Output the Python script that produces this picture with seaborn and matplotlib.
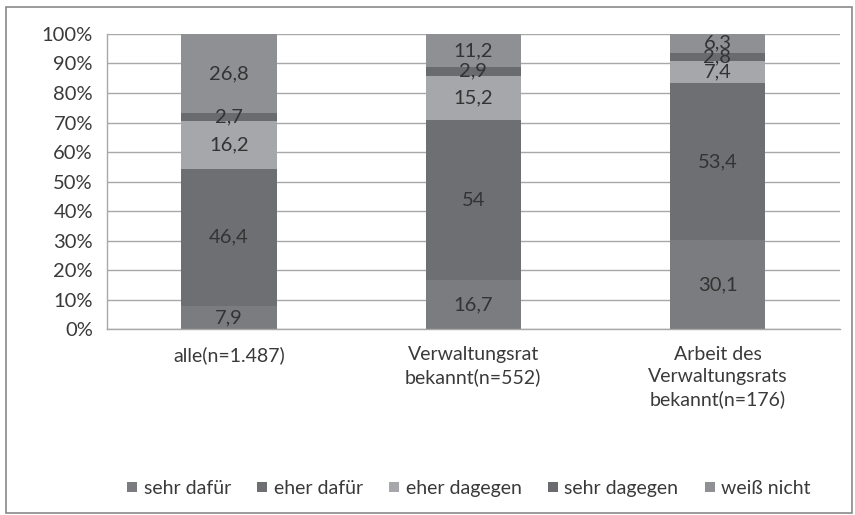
import numpy as np
import pandas as pd
import matplotlib
matplotlib.use("Agg")
import matplotlib.pyplot as plt
from matplotlib.lines import Line2D
from matplotlib.patches import Rectangle
import seaborn as sns

categories = ["alle(n=1.487)", "Verwaltungsrat\nbekannt(n=552)",
              "Arbeit des\nVerwaltungsrats\nbekannt(n=176)"]
series = ["sehr dafür", "eher dafür", "eher dagegen", "sehr dagegen", "weiß nicht"]
sehr_dafuer = [7.9, 16.7, 30.1]
eher_dafuer = [46.4, 54, 53.4]
eher_dagegen = [16.2, 15.2, 7.4]
sehr_dagegen = [2.7, 2.9, 2.8]
weiss_nicht = [26.8, 11.2, 6.3]
colors = ["#7b7c80", "#6e6f73", "#a6a7ab", "#6a6b6f", "#8f9094"]

values = [sehr_dafuer, eher_dafuer, eher_dagegen, sehr_dagegen, weiss_nicht]
cum = np.cumsum(np.array(values), axis=0)

sns.set_style("white")
plt.rcParams["font.family"] = ["Lato", "DejaVu Sans"]
text_color = "#3a3a3a"

fig = plt.figure(figsize=(8.55, 5.15), dpi=100)
ax = fig.add_axes([0.125, 0.361, 0.857, 0.573])

# stacked bars: draw cumulative totals from top segment down
for i in range(len(series) - 1, -1, -1):
    d = pd.DataFrame({"cat": categories, "val": cum[i]})
    sns.barplot(data=d, x="cat", y="val", color=colors[i], width=0.39,
                saturation=1, ax=ax, zorder=2, linewidth=0)

# value labels in segment middles
for i in range(len(series)):
    for j, cat in enumerate(categories):
        v = values[i][j]
        mid = cum[i][j] - v / 2
        lab = f"{v:g}".replace(".", ",")
        ax.text(j, mid, lab, ha="center", va="center", fontsize=14.5,
                color="#333333", zorder=3)

ax.set_ylim(0, 100)
ax.set_xlim(-0.5, 2.5)
ax.set_yticks(np.arange(0, 101, 10))
ax.set_yticklabels([f"{t}%" for t in range(0, 101, 10)])
ax.yaxis.grid(True, color="#a8a8a8", linewidth=1, zorder=0)
ax.set_axisbelow(True)
ax.set_xlabel("")
ax.set_ylabel("")
for s in ["top", "right"]:
    ax.spines[s].set_visible(False)
for s in ["left", "bottom"]:
    ax.spines[s].set_color("#a8a8a8")
    ax.spines[s].set_linewidth(1)
ax.set_xticks([0, 1, 2])
ax.set_xticklabels(categories, fontsize=14, color=text_color, linespacing=1.35)
ax.set_xticks([0.5, 1.5, 2.5], minor=True)
ax.tick_params(axis="x", which="major", length=0, pad=12)
ax.tick_params(axis="x", which="minor", length=5, color="#a8a8a8", width=1)
ax.tick_params(axis="y", length=6, color="#a8a8a8", width=1, labelsize=14.5,
               labelcolor=text_color, pad=4)

handles = [Line2D([], [], marker="s", linestyle="", markersize=6.5,
                  markerfacecolor=c, markeredgewidth=0) for c in colors]
fig.legend(handles, series, loc="center", bbox_to_anchor=(0.548, 0.052), ncol=5,
           frameon=False, fontsize=14, handlelength=0.6, handletextpad=0.3,
           columnspacing=1.3, labelcolor=text_color)

fig.patches.append(Rectangle((0.007, 0.004), 0.99, 0.982, transform=fig.transFigure,
                             fill=False, edgecolor="#8a8a8a", linewidth=1.2))

fig.savefig("out.png", dpi=100)
